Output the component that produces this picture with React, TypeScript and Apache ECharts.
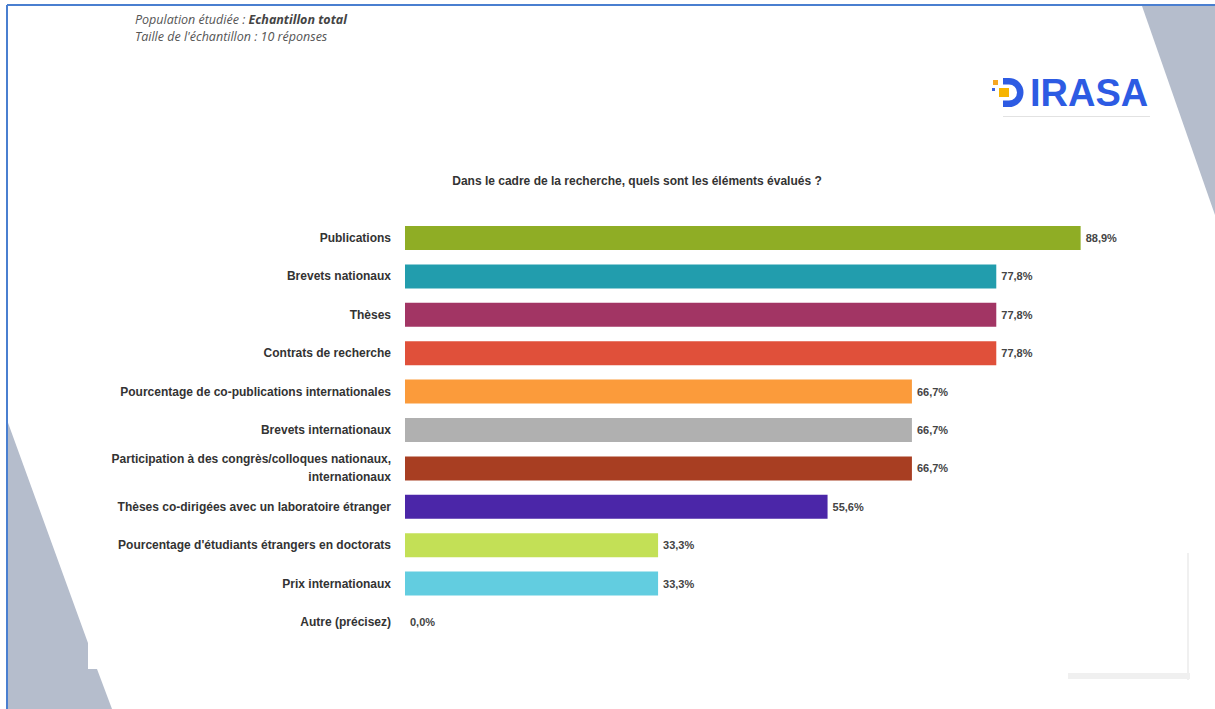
import React, { useEffect, useRef } from "react";
import * as echarts from "echarts";

const categories = [
  "Publications",
  "Brevets nationaux",
  "Thèses",
  "Contrats de recherche",
  "Pourcentage de co-publications internationales",
  "Brevets internationaux",
  "Participation à des congrès/colloques nationaux,\ninternationaux",
  "Thèses co-dirigées avec un laboratoire étranger",
  "Pourcentage d'étudiants étrangers en doctorats",
  "Prix internationaux",
  "Autre (précisez)",
];

const values = [88.9, 77.8, 77.8, 77.8, 66.7, 66.7, 66.7, 55.6, 33.3, 33.3, 0.0];

const barColors = [
  "#8fad25",
  "#229dad",
  "#a23564",
  "#e0503a",
  "#fb9b3b",
  "#b0b0b0",
  "#a83e22",
  "#4b26a8",
  "#c3e056",
  "#62cde0",
  "#999999",
];

const titleText = "Dans le cadre de la recherche, quels sont les éléments évalués ?";
const headerLine1a = "Population étudiée : ";
const headerLine1b = "Echantillon total";
const headerLine2 = "Taille de l'échantillon : 10 réponses";

const FONT = "'Liberation Sans', Arial, sans-serif";

let registered = false;
function registerShapes() {
  if (registered) return;
  registered = true;
  echarts.graphic.registerShape(
    "logoD",
    echarts.graphic.extendPath(
      "M0 0 H6 A14.5 14.5 0 0 1 6 29 H0 V22.5 H6 A8 8 0 0 0 6 6.5 H0 Z",
      {}
    )
  );
}

export default function App() {
  const ref = useRef<HTMLDivElement>(null);

  useEffect(() => {
    document.body.style.margin = "0";
    registerShapes();
    const chart = echarts.init(ref.current!, null, { renderer: "svg" });

    const option: any = {
      animation: false,
      backgroundColor: "#ffffff",
      grid: { left: 405, right: 50, top: 218.8, bottom: 67.8, containLabel: false },
      xAxis: {
        type: "value",
        min: 0,
        max: 100,
        show: false,
      },
      yAxis: {
        type: "category",
        data: categories,
        inverse: true,
        axisLine: { show: false },
        axisTick: { show: false },
        splitLine: { show: false },
        axisLabel: {
          margin: 14,
          color: "#333333",
          fontFamily: FONT,
          fontWeight: "bold",
          fontSize: 12,
          lineHeight: 18,
          align: "right",
        },
      },
      series: [
        {
          type: "bar",
          barWidth: 24,
          data: values.map((v, i) => ({ value: v, itemStyle: { color: barColors[i] } })),
          label: {
            show: true,
            position: "right",
            distance: 5,
            color: "#444444",
            fontFamily: FONT,
            fontWeight: "bold",
            fontSize: 11,
            formatter: (p: any) => Number(p.value).toFixed(1).replace(".", ",") + "%",
          },
        },
      ],
      graphic: [
        {
          type: "polygon",
          z: -10,
          shape: {
            points: [
              [7, 420],
              [88, 643],
              [88, 669],
              [97, 669],
              [112, 709],
              [7, 709],
            ],
          },
          style: { fill: "#b5bdcc" },
        },
        {
          type: "polygon",
          z: -10,
          shape: {
            points: [
              [1142, 6],
              [1215, 6],
              [1215, 215],
            ],
          },
          style: { fill: "#b5bdcc" },
        },
        {
          type: "line",
          z: -9,
          shape: { x1: 1188, y1: 553, x2: 1188, y2: 680 },
          style: { stroke: "#f0f0f0", lineWidth: 2 },
        },
        {
          type: "line",
          z: -9,
          shape: { x1: 1068, y1: 676, x2: 1190, y2: 676 },
          style: { stroke: "#f0f0f0", lineWidth: 6 },
        },
        {
          type: "line",
          shape: { x1: 7, y1: 5, x2: 1215, y2: 5 },
          style: { stroke: "#4a7fd0", lineWidth: 2 },
        },
        {
          type: "line",
          shape: { x1: 7, y1: 5, x2: 7, y2: 709 },
          style: { stroke: "#4a7fd0", lineWidth: 2 },
        },
        {
          type: "text",
          x: 135,
          y: 19,
          style: {
            text: "{a|" + headerLine1a + "}{b|" + headerLine1b + "}",
            verticalAlign: "middle",
            rich: {
              a: {
                fontFamily: "'Open Sans', sans-serif",
                fontStyle: "italic",
                fontSize: 12.5,
                fill: "#555555",
                color: "#555555",
              },
              b: {
                fontFamily: "'Open Sans', sans-serif",
                fontStyle: "italic",
                fontWeight: "bold",
                fontSize: 12.5,
                fill: "#444444",
                color: "#444444",
              },
            },
          },
        },
        {
          type: "text",
          x: 135,
          y: 36,
          style: {
            text: headerLine2,
            verticalAlign: "middle",
            fontFamily: "'Open Sans', sans-serif",
            fontStyle: "italic",
            fontSize: 12.5,
            fill: "#555555",
          },
        },
        {
          type: "logoD",
          x: 1003,
          y: 78,
          style: { fill: "#2d5be3" },
        },
        {
          type: "rect",
          shape: { x: 993, y: 80, width: 5, height: 5 },
          style: { fill: "#f5a623" },
        },
        {
          type: "rect",
          shape: { x: 999, y: 88, width: 10, height: 9 },
          style: { fill: "#f7b500" },
        },
        {
          type: "rect",
          shape: { x: 992, y: 88, width: 3, height: 3 },
          style: { fill: "#3a64e0" },
        },
        {
          type: "text",
          x: 1030,
          y: 93,
          style: {
            text: "IRASA",
            verticalAlign: "middle",
            fontFamily: "'Liberation Sans', Arial, sans-serif",
            fontWeight: "bold",
            fontSize: 38,
            fill: "#2d5be3",
          },
        },
        {
          type: "rect",
          shape: { x: 1003, y: 116, width: 147, height: 1 },
          style: { fill: "#e2e2e2" },
        },
        {
          type: "text",
          x: 637,
          y: 181,
          style: {
            text: titleText,
            align: "center",
            verticalAlign: "middle",
            fontFamily: FONT,
            fontWeight: "bold",
            fontSize: 12,
            fill: "#333333",
          },
        },
      ],
    };

    chart.setOption(option);
    return () => chart.dispose();
  }, []);

  return <div ref={ref} style={{ width: 1215, height: 709 }} />;
}
